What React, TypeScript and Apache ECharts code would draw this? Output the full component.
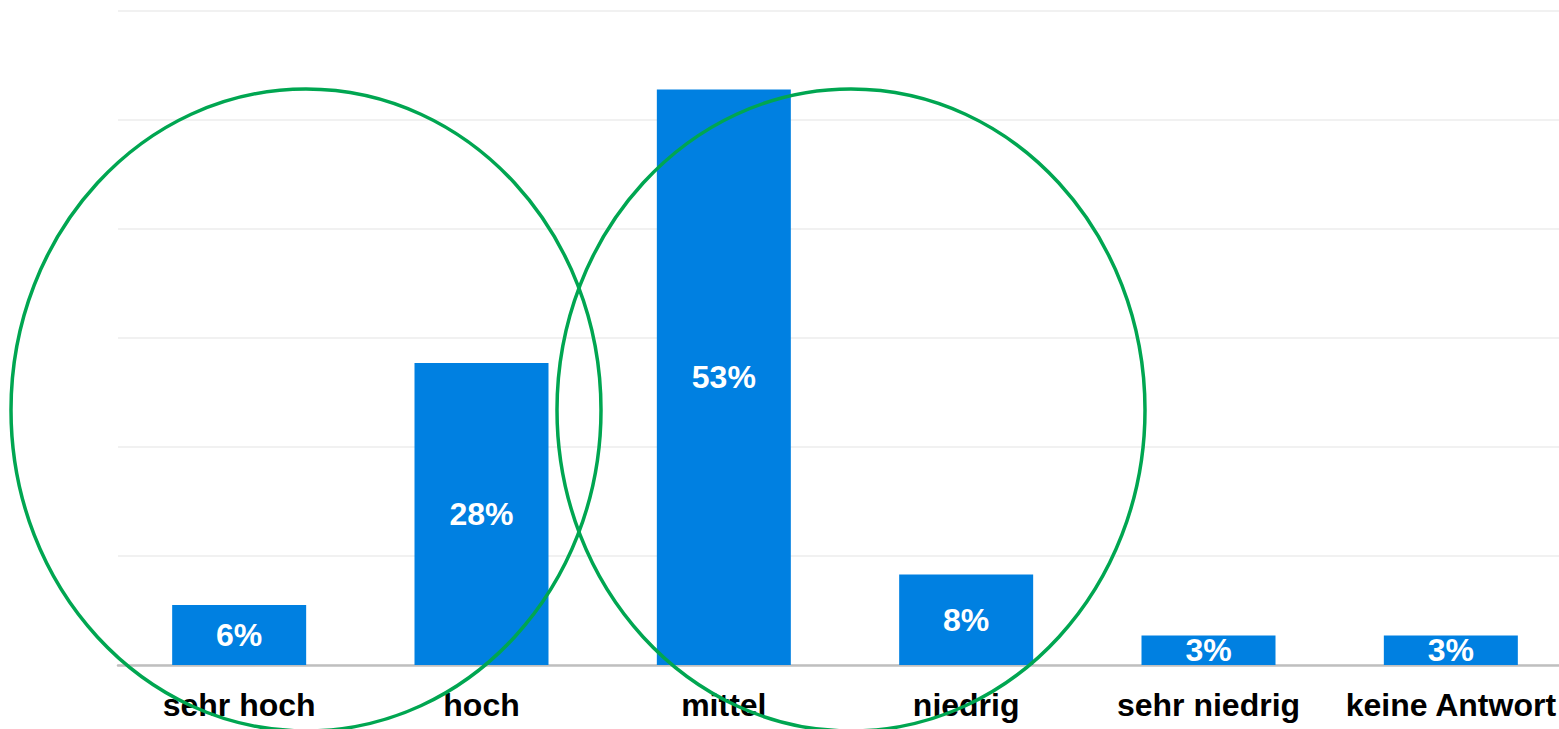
import React, { useEffect, useRef } from "react";
import * as echarts from "echarts";

const categories = ["sehr hoch", "hoch", "mittel", "niedrig", "sehr niedrig", "keine Antwort"];
const values = [5.5, 27.7, 52.8, 8.3, 2.7, 2.7];
const labels = ["6%", "28%", "53%", "8%", "3%", "3%"];

export default function App() {
  const ref = useRef<HTMLDivElement>(null);
  useEffect(() => {
    document.body.style.margin = "0";
    document.body.style.overflow = "hidden";
    const chart = echarts.init(ref.current!, null, { renderer: "svg" });
    chart.setOption({
      animation: false,
      grid: { left: 118, right: 0, top: 11, bottom: 64, containLabel: false },
      xAxis: {
        type: "category",
        data: categories,
        axisLine: { show: true, lineStyle: { color: "#bfbfbf", width: 2.5 } },
        axisTick: { show: false },
        axisLabel: {
          color: "#000",
          fontWeight: "bold",
          fontSize: 32,
          fontFamily: "Liberation Sans, Arial, sans-serif",
          margin: 24,
          interval: 0,
        },
      },
      yAxis: {
        type: "value",
        min: 0,
        max: 60,
        interval: 10,
        axisLabel: { show: false },
        axisLine: { show: false },
        axisTick: { show: false },
        splitLine: { lineStyle: { color: "#ececec", width: 1.5 } },
      },
      series: [
        {
          type: "bar",
          data: values,
          barWidth: 134,
          itemStyle: { color: "#0080e1" },
          label: {
            show: true,
            position: "inside",
            color: "#fff",
            fontWeight: "bold",
            fontSize: 32,
            fontFamily: "Liberation Sans, Arial, sans-serif",
            formatter: (p: any) => labels[p.dataIndex],
          },
        },
      ],
      graphic: [
        {
          type: "ellipse",
          shape: { cx: 306, cy: 410, rx: 295, ry: 321 },
          style: { fill: "none", stroke: "#00a651", lineWidth: 3.5 },
          z: 100,
        },
        {
          type: "ellipse",
          shape: { cx: 851, cy: 410, rx: 294, ry: 321 },
          style: { fill: "none", stroke: "#00a651", lineWidth: 3.5 },
          z: 100,
        },
      ],
    });
    return () => chart.dispose();
  }, []);
  return (
    <div style={{ width: 1559, height: 729, overflow: "hidden", position: "relative" }}>
      <div ref={ref} style={{ width: 1572, height: 729 }} />
    </div>
  );
}
